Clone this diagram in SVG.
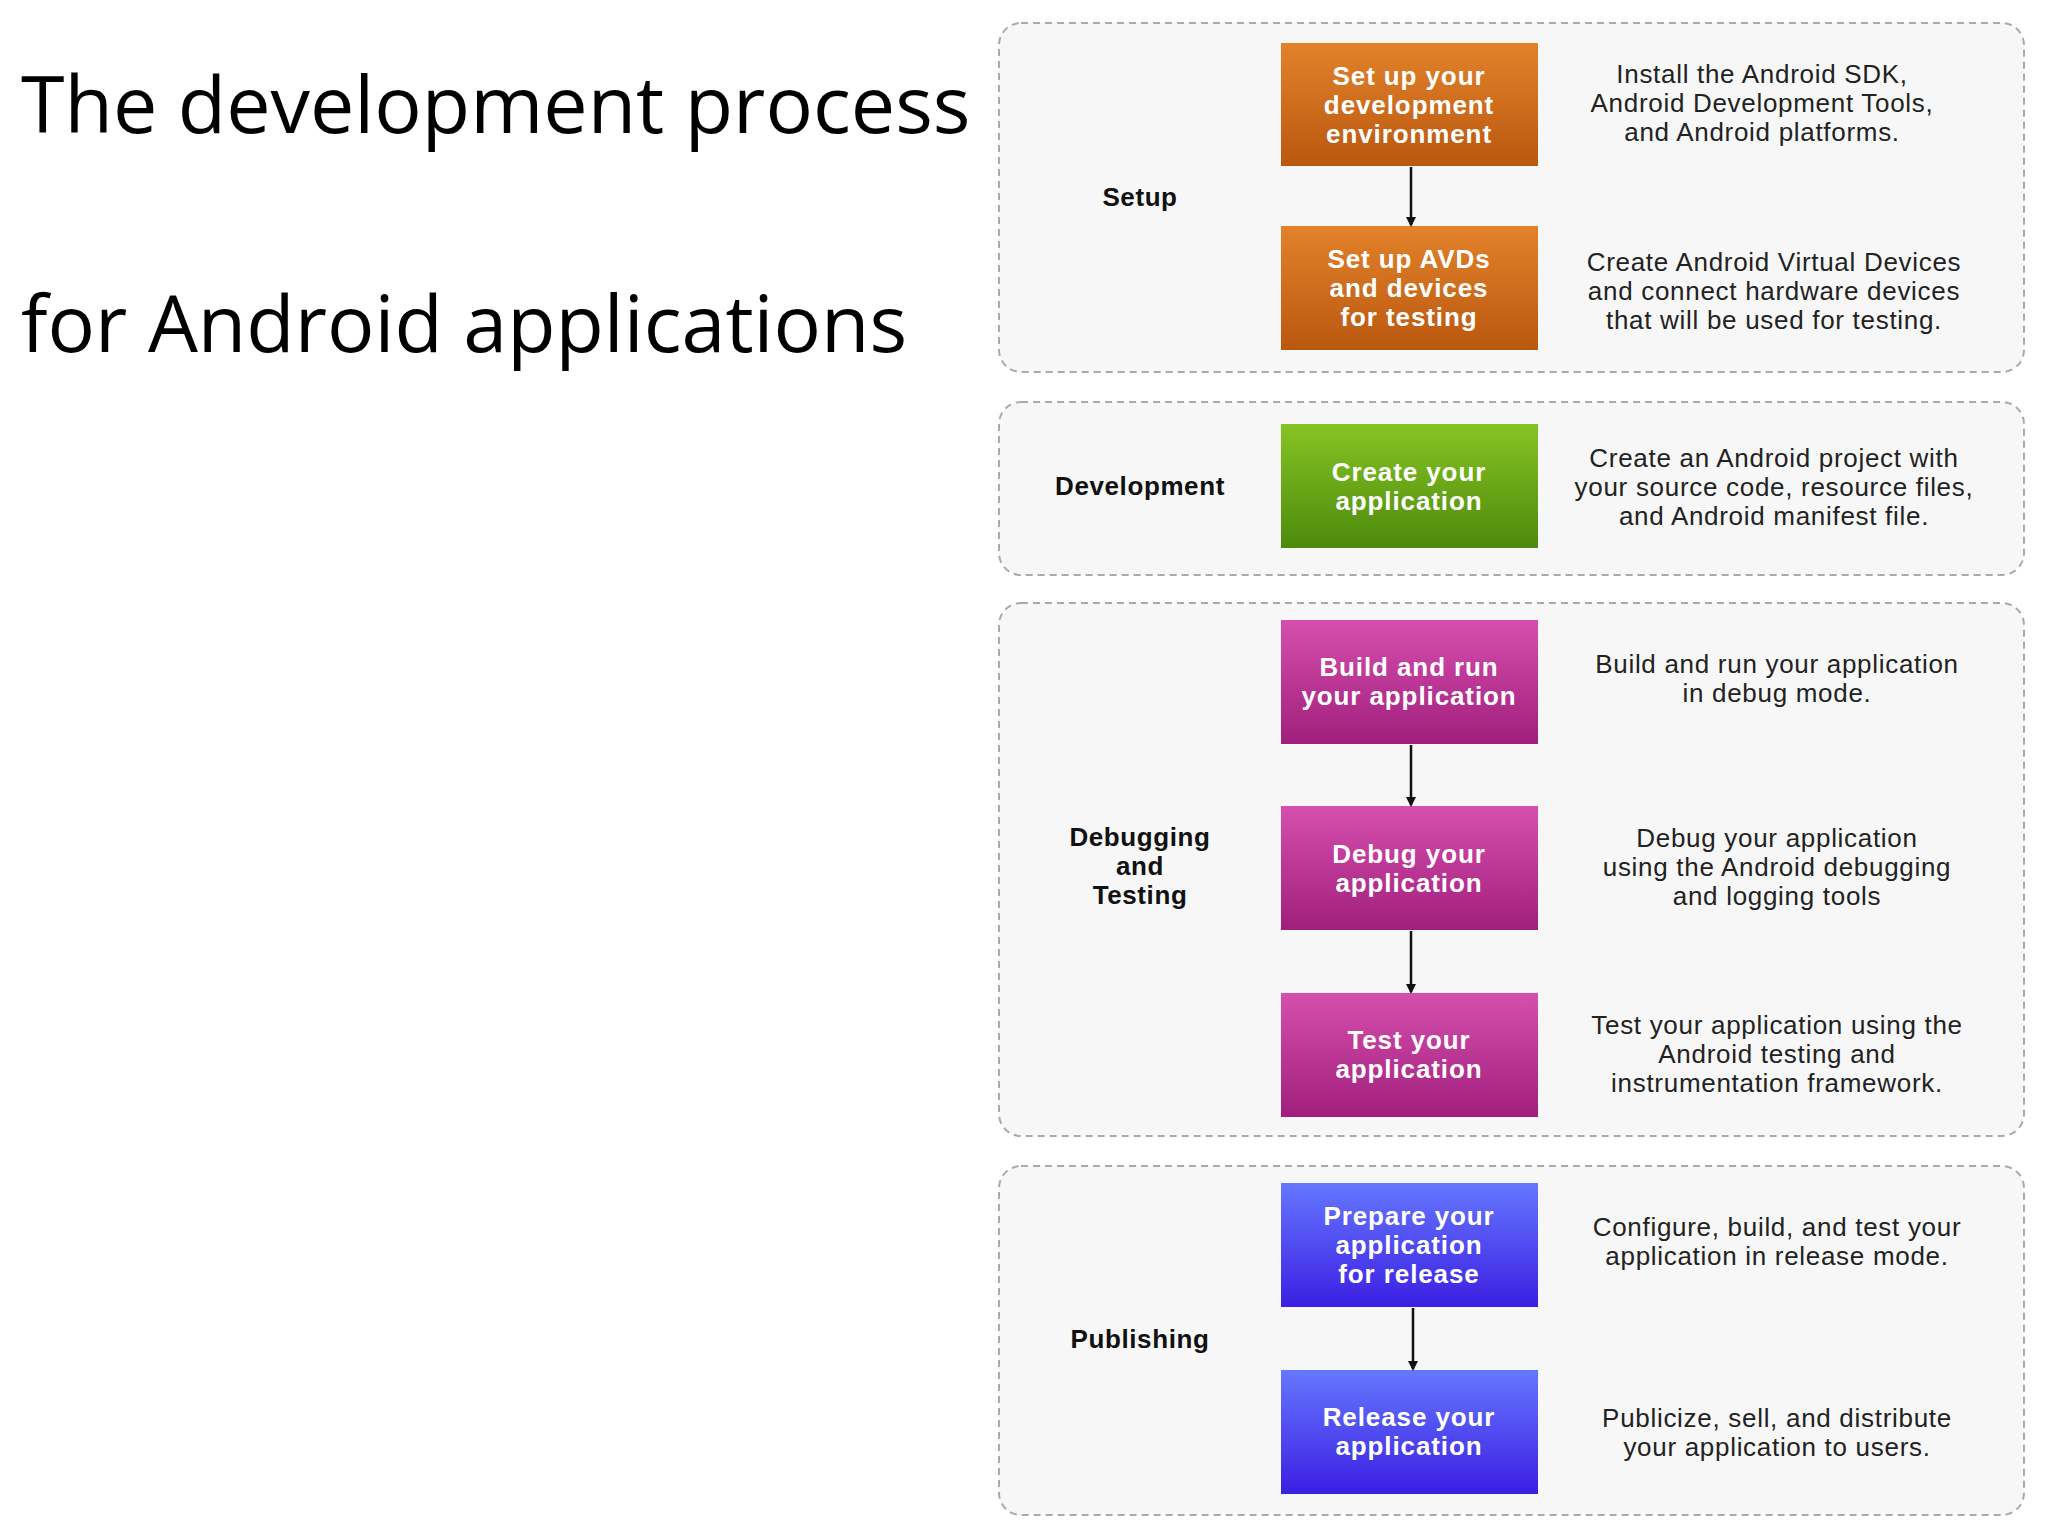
<svg xmlns="http://www.w3.org/2000/svg" width="2048" height="1536" viewBox="0 0 2048 1536">
<defs>
<linearGradient id="go" x1="0" y1="0" x2="0" y2="1"><stop offset="0" stop-color="#e3822a"/><stop offset="1" stop-color="#b9580f"/></linearGradient>
<linearGradient id="gg" x1="0" y1="0" x2="0" y2="1"><stop offset="0" stop-color="#86c424"/><stop offset="1" stop-color="#4d8a0c"/></linearGradient>
<linearGradient id="gm" x1="0" y1="0" x2="0" y2="1"><stop offset="0" stop-color="#d64fae"/><stop offset="1" stop-color="#a11f7c"/></linearGradient>
<linearGradient id="gb" x1="0" y1="0" x2="0" y2="1"><stop offset="0" stop-color="#6577ff"/><stop offset="1" stop-color="#3b1fe2"/></linearGradient>
<marker id="ah" markerWidth="10" markerHeight="10" refX="8" refY="5" orient="auto" markerUnits="userSpaceOnUse"><path d="M0,0 L10,5 L0,10 z" fill="#111"/></marker>
</defs>
<style>
.panel{fill:#f7f7f7;stroke:#aaa;stroke-width:2;stroke-dasharray:7,5}
.box{stroke:none}
.bt{font-family:"Liberation Sans",Arial,sans-serif;font-weight:bold;font-size:26px;letter-spacing:0.9px;fill:#fff;text-anchor:middle}
.lab{font-family:"Liberation Sans",Arial,sans-serif;font-weight:bold;font-size:26px;letter-spacing:0.6px;fill:#111;text-anchor:middle}
.desc{font-family:"Liberation Sans",Arial,sans-serif;font-size:26px;letter-spacing:0.7px;fill:#222;text-anchor:middle}
.title{font-family:"Open Sans","Liberation Sans",sans-serif;font-size:79px;fill:#000}
.conn{stroke:#111;stroke-width:2.5;fill:none;marker-end:url(#ah)}
</style>
<rect width="2048" height="1536" fill="#fff"/>
<text class="title" x="21" y="133">The development process</text>
<text class="title" x="21" y="352">for Android applications</text>
<g id="panels">
<rect class="panel" x="999" y="23" width="1025" height="349" rx="22"/>
<rect class="panel" x="999" y="402" width="1025" height="173" rx="22"/>
<rect class="panel" x="999" y="603" width="1025" height="533" rx="22"/>
<rect class="panel" x="999" y="1166" width="1025" height="349" rx="22"/>
<text class="lab" x="1140" y="206">Setup</text>
<text class="lab" x="1140" y="495">Development</text>
<text class="lab" x="1140" y="846">Debugging</text>
<text class="lab" x="1140" y="875">and</text>
<text class="lab" x="1140" y="904">Testing</text>
<text class="lab" x="1140" y="1348">Publishing</text>
</g>
<g id="n1"><rect class="box" x="1281" y="43" width="257" height="123" fill="url(#go)"/><text class="bt" x="1409" y="85">Set up your</text><text class="bt" x="1409" y="114">development</text><text class="bt" x="1409" y="143">environment</text>
<text class="desc" x="1762" y="83">Install the Android SDK,</text><text class="desc" x="1762" y="112">Android Development Tools,</text><text class="desc" x="1762" y="141">and Android platforms.</text></g>
<g id="n2"><rect class="box" x="1281" y="226" width="257" height="124" fill="url(#go)"/><text class="bt" x="1409" y="268">Set up AVDs</text><text class="bt" x="1409" y="297">and devices</text><text class="bt" x="1409" y="326">for testing</text>
<text class="desc" x="1774" y="271">Create Android Virtual Devices</text><text class="desc" x="1774" y="300">and connect hardware devices</text><text class="desc" x="1774" y="329">that will be used for testing.</text></g>
<g id="n3"><rect class="box" x="1281" y="424" width="257" height="124" fill="url(#gg)"/><text class="bt" x="1409" y="481">Create your</text><text class="bt" x="1409" y="510">application</text>
<text class="desc" x="1774" y="467">Create an Android project with</text><text class="desc" x="1774" y="496">your source code, resource files,</text><text class="desc" x="1774" y="525">and Android manifest file.</text></g>
<g id="n4"><rect class="box" x="1281" y="620" width="257" height="124" fill="url(#gm)"/><text class="bt" x="1409" y="676">Build and run</text><text class="bt" x="1409" y="705">your application</text>
<text class="desc" x="1777" y="673">Build and run your application</text><text class="desc" x="1777" y="702">in debug mode.</text></g>
<g id="n5"><rect class="box" x="1281" y="806" width="257" height="124" fill="url(#gm)"/><text class="bt" x="1409" y="863">Debug your</text><text class="bt" x="1409" y="892">application</text>
<text class="desc" x="1777" y="847">Debug your application</text><text class="desc" x="1777" y="876">using the Android debugging</text><text class="desc" x="1777" y="905">and logging tools</text></g>
<g id="n6"><rect class="box" x="1281" y="993" width="257" height="124" fill="url(#gm)"/><text class="bt" x="1409" y="1049">Test your</text><text class="bt" x="1409" y="1078">application</text>
<text class="desc" x="1777" y="1034">Test your application using the</text><text class="desc" x="1777" y="1063">Android testing and</text><text class="desc" x="1777" y="1092">instrumentation framework.</text></g>
<g id="n7"><rect class="box" x="1281" y="1183" width="257" height="124" fill="url(#gb)"/><text class="bt" x="1409" y="1225">Prepare your</text><text class="bt" x="1409" y="1254">application</text><text class="bt" x="1409" y="1283">for release</text>
<text class="desc" x="1777" y="1236">Configure, build, and test your</text><text class="desc" x="1777" y="1265">application in release mode.</text></g>
<g id="n8"><rect class="box" x="1281" y="1370" width="257" height="124" fill="url(#gb)"/><text class="bt" x="1409" y="1426">Release your</text><text class="bt" x="1409" y="1455">application</text>
<text class="desc" x="1777" y="1427">Publicize, sell, and distribute</text><text class="desc" x="1777" y="1456">your application to users.</text></g>
<g id="connectors">
<line class="conn" x1="1411" y1="167" x2="1411" y2="225"/>
<line class="conn" x1="1411" y1="745" x2="1411" y2="805"/>
<line class="conn" x1="1411" y1="931" x2="1411" y2="992"/>
<line class="conn" x1="1413" y1="1308" x2="1413" y2="1369"/>
</g>
</svg>
